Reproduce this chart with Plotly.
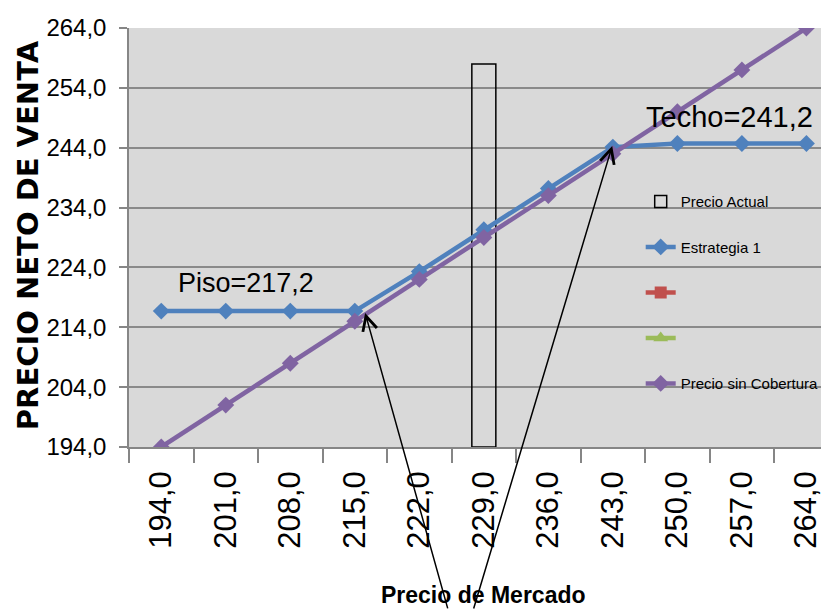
import plotly.graph_objects as go

# ---- data ----
market_price = [194, 201, 208, 215, 222, 229, 236, 243, 250, 257, 264]
x_labels = ["194,0", "201,0", "208,0", "215,0", "222,0", "229,0", "236,0", "243,0", "250,0", "257,0", "264,0"]
estrategia_1 = [216.7, 216.7, 216.7, 216.7, 223.3, 230.3, 237.2, 244.1, 244.7, 244.7, 244.7]
precio_sin_cobertura = [194, 201, 208, 215, 222, 229, 236, 243, 250, 257, 264]
precio_actual_cat = ["229,0"]
precio_actual_val = [258.0]
serie_roja = [None] * 11
serie_verde = [None] * 11
y_min, y_max = 194, 264

ARIAL = "Liberation Sans, Arial, sans-serif"

fig = go.Figure()

fig.add_trace(go.Bar(
    x=precio_actual_cat, y=[v - y_min for v in precio_actual_val], base=y_min,
    width=0.372, name="Precio Actual",
    marker=dict(color="rgba(0,0,0,0)", line=dict(color="black", width=1.5)),
    legendgroup="a",
))
fig.add_trace(go.Scatter(
    x=x_labels, y=estrategia_1, name="Estrategia 1", mode="lines+markers",
    line=dict(color="#4f81bd", width=4.5),
    marker=dict(symbol="diamond", size=13, color="#4f81bd"),
    legendgroup="b",
))
fig.add_trace(go.Scatter(
    x=x_labels, y=serie_roja, name=" ", mode="lines+markers",
    line=dict(color="#c0504d", width=4.5),
    marker=dict(symbol="square", size=12, color="#c0504d"),
    legendgroup="c",
))
fig.add_trace(go.Scatter(
    x=x_labels, y=serie_verde, name=" ", mode="lines+markers",
    line=dict(color="#9bbb59", width=4.5),
    marker=dict(symbol="triangle-up", size=13, color="#9bbb59"),
    legendgroup="d",
))
fig.add_trace(go.Scatter(
    x=x_labels, y=precio_sin_cobertura, name="Precio sin Cobertura", mode="lines+markers",
    line=dict(color="#8064a2", width=4.5),
    marker=dict(symbol="diamond", size=13, color="#8064a2"),
    legendgroup="e",
))

fig.update_layout(
    width=821, height=602,
    margin=dict(l=121, r=0, t=20, b=163),
    paper_bgcolor="white",
    plot_bgcolor="#d9d9d9",
    separators=",.",
    showlegend=True,
    legend=dict(
        x=0.731, y=0.625, xanchor="left", yanchor="top",
        bgcolor="rgba(0,0,0,0)",
        font=dict(family=ARIAL, size=15, color="black"),
        traceorder="grouped", tracegroupgap=23,
        itemwidth=30,
    ),
    xaxis=dict(
        type="category", categoryorder="array", categoryarray=x_labels,
        range=[-0.5, 10.35],
        tickson="boundaries", ticks="outside", ticklen=14, tickwidth=1.5,
        tickcolor="#868686", showline=True, linecolor="#868686", linewidth=1.5,
        showgrid=False, tickangle=-90,
        tickfont=dict(family=ARIAL, size=31, color="black"),
        ticklabelstandoff=10,
    ),
    yaxis=dict(
        range=[y_min, y_max], tick0=y_min, dtick=10, tickformat=".1f",
        ticks="outside", ticklen=8, tickwidth=1.5, tickcolor="#868686",
        showline=True, linecolor="#868686", linewidth=1.5,
        showgrid=True, gridcolor="#8a8a8a", gridwidth=1.5,
        zeroline=False,
        tickfont=dict(family=ARIAL, size=24, color="black"),
        ticklabelstandoff=8,
    ),
    annotations=[
        dict(text="<b>PRECIO NETO DE VENTA</b>", textangle=-90, xref="paper", yref="paper",
             x=-0.144, y=0.506, xanchor="center", yanchor="middle", showarrow=False,
             font=dict(family="DejaVu Sans, sans-serif", size=29, color="black")),
        dict(text="<b>Precio de Mercado</b>", xref="paper", yref="paper",
             x=0.507, y=-0.353, xanchor="center", yanchor="middle", showarrow=False,
             font=dict(family=ARIAL, size=23, color="black")),
        dict(text="Piso=217,2", xref="x", yref="y", x=1.31, y=221.4, showarrow=False,
             font=dict(family=ARIAL, size=27, color="black")),
        dict(text="Techo=241,2", xref="x", yref="y", x=8.8, y=249.2, showarrow=False,
             font=dict(family=ARIAL, size=29, color="black")),
        dict(text="", xref="x", yref="y", x=3.16, y=216.4, ax=83, ay=297,
             showarrow=True, arrowhead=5, arrowsize=1.9, arrowwidth=1.5, arrowcolor="black"),
        dict(text="", xref="x", yref="y", x=6.99, y=244.3, ax=-139, ay=464,
             showarrow=True, arrowhead=5, arrowsize=1.9, arrowwidth=1.5, arrowcolor="black"),
    ],
)

fig.write_html("out.html")
